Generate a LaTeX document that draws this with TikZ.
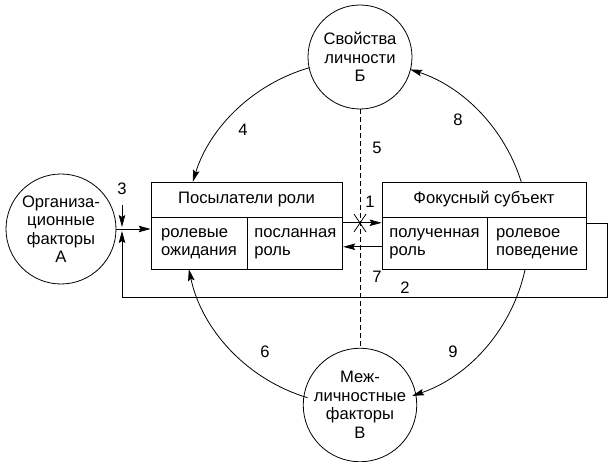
\documentclass[tikz,border=0pt]{standalone}
\usepackage{fontspec}
\setmainfont{Liberation Sans}
\usetikzlibrary{arrows.meta}

\begin{document}
\begin{tikzpicture}[x=1pt,y=1pt,line width=0.8pt,
	>={Stealth[length=12pt,width=6.5pt,inset=2pt]},
	every node/.style={font=\fontsize{16.6}{18.5}\selectfont},
	factor/.style={draw,circle,minimum size=#1,inner sep=0pt,align=center},
	head/.style={draw,minimum height=35pt,inner sep=0pt},
	cell/.style={draw,minimum height=52pt,inner sep=0pt,align=left,anchor=north west},
	split/.style={dash pattern=on 5pt off 3pt}]
	
	\useasboundingbox (0,0) rectangle (616,462);
	
	% The factors
	\node[factor=110pt] (orgA) at (61,233) {Организа-\\ционные\\факторы\\А};
	\node[factor=104pt] (persB) at (360,405) {Свойства\\личности\\Б};
	\node[factor=106pt] (interV) at (360,57) {Меж-\\личностные\\факторы\\В};
	
	% The boxes
	\node[head,minimum width=191pt] (sendT) at (246.5,262.5) {Посылатели роли};
	\node[cell,minimum width=96pt] (sendA) at (sendT.south west) {ролевые\\ожидания};
	\node[cell,minimum width=95pt] (sendB) at (sendA.north east) {посланная\\роль};
	
	\node[head,minimum width=204pt] (focT) at (484,262.5) {Фокусный субъект};
	\node[cell,minimum width=105pt] (focA) at (focT.south west) {полученная\\роль};
	\node[cell,minimum width=99pt] (focB) at (focA.north east) {ролевое\\поведение};
	
	% The dashed split
	\draw[split] (persB) -- (interV);
	
	% The straight links
	\draw[->] ([yshift=21pt]sendB.east) -- ([yshift=21pt]focA.west);
	\draw[->] ([yshift=-3pt]focA.west) -- ([yshift=-3pt]sendB.east);
	\draw (354,230) -- (366,248) (354,248) -- (366,230);
	
	\coordinate (ret) at (122,231);
	\draw[->] ([yshift=20pt]focB.east) -| (607,165) -| (ret);
	
	\coordinate (in3) at (122,257);
	\coordinate (in3end) at (122,235);
	\draw[->] (in3) -- (in3end);
	\draw[->] (orgA.east) -- (orgA.east -| sendA.west);
	
	% The arcs
	\coordinate (cen) at (357,229);
	\draw[->] ([shift={(106:172)}]cen) arc[start angle=106,end angle=162.75,radius=172];
	\draw[->] ([shift={(17.25:172)}]cen) arc[start angle=17.25,end angle=72,radius=172];
	\draw[->] ([shift={(253.3:172)}]cen) arc[start angle=253.3,end angle=192.1,radius=172];
	\draw[->] ([shift={(-12.1:172)}]cen) arc[start angle=-12.1,end angle=-71.3,radius=172];
	
	% The numbers
	\foreach \n/\x/\y in {1/370/260,2/405/174,3/122/273,4/243/332,5/377/314,
		6/265/110,7/377/185,8/458/342,9/453/110}
	{
		\node (lab\n) at (\x,\y) {\n};
	}
	
\end{tikzpicture}
\end{document}
